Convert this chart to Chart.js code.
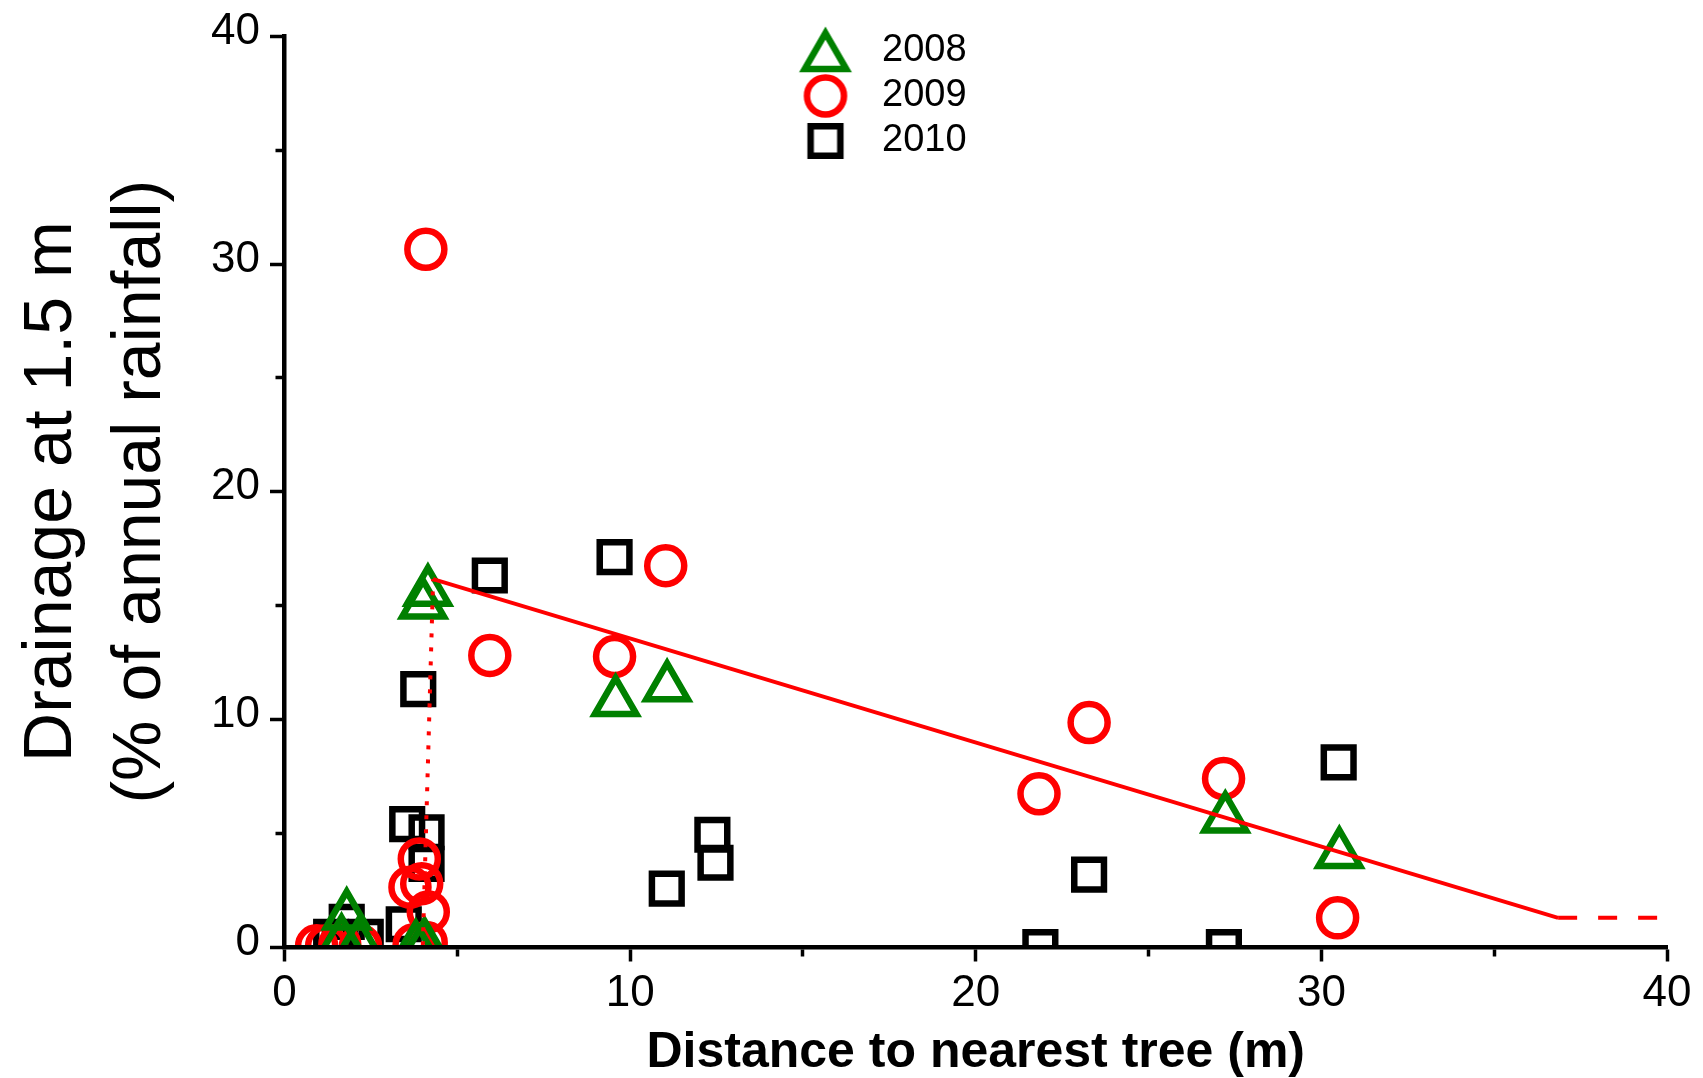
<!DOCTYPE html>
<html>
<head>
<meta charset="utf-8">
<title>Drainage at 1.5 m vs distance to nearest tree</title>
<script src="https://cdn.jsdelivr.net/npm/chart.js@4"></script>
<style>
  html, body { margin: 0; padding: 0; background: #fff; }
  #chart { display: block; }
</style>
</head>
<body>
<canvas id="chart" width="1703" height="1078"></canvas>
<script>
const FONT = "'Liberation Sans', Arial, Helvetica, sans-serif";
const GREEN = '#008000';
const RED = '#ff0000';
const BLACK = '#000000';

// 2008 (triangles)
const x2008 = [1.80, 1.65, 2.15, 3.80, 4.05, 4.01, 4.15, 9.58, 11.07, 27.22, 30.52];
const y2008 = [1.38, 0.25, 0.15, 0.00, 0.10, 15.04, 15.60, 10.76, 11.41, 5.65, 4.08];

// 2009 (circles)
const x2009 = [0.93, 1.22, 1.60, 2.20, 3.75, 4.10, 4.16, 3.63, 3.97, 3.90, 4.09, 5.94, 9.55, 11.03, 21.83, 23.28, 27.17, 30.47];
const y2009 = [0.05, 0.05, 0.10, 0.05, 0.10, 0.20, 1.54, 2.63, 2.78, 3.87, 30.65, 12.81, 12.76, 16.75, 6.73, 9.86, 7.40, 1.28];

// 2010 (squares)
const x2010 = [1.35, 1.80, 2.35, 1.60, 3.45, 4.11, 3.55, 4.11, 3.87, 5.94, 9.55, 11.06, 12.38, 12.47, 21.87, 23.28, 27.18, 30.50];
const y2010 = [0.45, 1.10, 0.45, 0.20, 1.00, 3.65, 5.40, 5.04, 11.33, 16.32, 17.13, 2.56, 4.93, 3.70, 0.00, 3.18, 0.00, 8.11];

// fitted model: zero, jump, linear decline, then flat
const stepX = [0, 4.0, 4.3];
const stepY = [0, 0, 16.16];
const fitX = [4.3, 36.85];
const fitY = [16.16, 1.28];
const flatX = [36.85, 39.85];
const flatY = [1.28, 1.28];

const tickLabels = [0, 10, 20, 30, 40];
const xTitle = 'Distance to nearest tree (m)';
const yTitle = ['Drainage at 1.5 m', '(% of annual rainfall)'];

const MARK_W = 6.5;

const zip = (xs, ys) => xs.map((x, i) => ({x: x, y: ys[i]}));

// legend marker images, drawn with Chart.js' own point helper
function markerImage(style, radius, color) {
  const c = document.createElement('canvas');
  c.width = 72; c.height = 64;
  const ctx = c.getContext('2d');
  ctx.strokeStyle = color;
  ctx.fillStyle = 'rgba(0,0,0,0)';
  ctx.lineWidth = MARK_W;
  const cy = style === 'triangle' ? c.height / 2 + radius / 4 : c.height / 2;
  Chart.helpers.drawPoint(ctx, {pointStyle: style, radius: radius, borderWidth: MARK_W, rotation: 0}, c.width / 2, cy);
  return c;
}

const scatterSet = (label, xs, ys, style, radius, color) => ({
  label: label,
  data: zip(xs, ys),
  pointStyle: style,
  pointRadius: radius,
  pointBorderWidth: MARK_W,
  pointBorderColor: color,
  pointBackgroundColor: 'rgba(0,0,0,0)',
  borderColor: color,
  clip: 0,
  marker: markerImage(style, radius, color)
});

const lineSet = (xs, ys, width, dash) => ({
  label: '',
  data: zip(xs, ys),
  showLine: true,
  borderColor: RED,
  borderWidth: width,
  borderDash: dash,
  pointRadius: 0,
  clip: 0
});

// legend sits inside the plot, near the top middle
const legendSpot = {
  id: 'legendSpot',
  afterLayout(chart) {
    const lg = chart.legend;
    if (!lg) return;
    lg.left = 781; lg.top = 25;
    lg.width = 260; lg.height = 160;
    lg.right = lg.left + lg.width; lg.bottom = lg.top + lg.height;
  }
};

const minor = ctx => ctx.tick && ctx.tick.value % 10 !== 0;

new Chart(document.getElementById('chart'), {
  type: 'scatter',
  data: {
    datasets: [
      lineSet(stepX, stepY, 4, [4, 10]),
      lineSet(fitX, fitY, 3.8, []),
      lineSet(flatX, flatY, 4, [19, 21]),
      scatterSet('2008', x2008, y2008, 'triangle', 24, GREEN),
      scatterSet('2009', x2009, y2009, 'circle', 18.5, RED),
      scatterSet('2010', x2010, y2010, 'rect', 21, BLACK)
    ]
  },
  options: {
    responsive: false,
    animation: false,
    devicePixelRatio: 1,
    events: [],
    layout: { padding: { top: 31.5, right: 36, left: 0, bottom: 0 } },
    plugins: {
      tooltip: { enabled: false },
      legend: {
        position: 'chartArea',
        align: 'start',
        labels: {
          usePointStyle: true,
          pointStyleWidth: 75,
          padding: 7,
          color: BLACK,
          font: { family: FONT, size: 38 },
          generateLabels: chart => chart.data.datasets
            .map((ds, i) => ({ds: ds, i: i}))
            .filter(o => o.ds.marker)
            .map(o => ({
              text: o.ds.label,
              pointStyle: o.ds.marker,
              fillStyle: 'rgba(0,0,0,0)',
              strokeStyle: o.ds.borderColor,
              lineWidth: 0,
              hidden: false,
              datasetIndex: o.i,
              fontColor: BLACK
            }))
        }
      }
    },
    scales: {
      x: {
        type: 'linear',
        position: 'bottom',
        min: 0,
        max: 40,
        afterFit: s => { s.height = 131; },
        border: { display: true, color: BLACK, width: 4.5, z: 1 },
        grid: {
          drawOnChartArea: false,
          drawTicks: true,
          tickLength: 14.5,
          tickWidth: 3.5,
          tickColor: BLACK,
          tickBorderDash: ctx => minor(ctx) ? [7, 100] : []
        },
        ticks: {
          stepSize: 5,
          autoSkip: false,
          maxRotation: 0,
          padding: 5.5,
          color: BLACK,
          font: { family: FONT, size: 44 },
          callback: v => tickLabels.includes(v) ? String(v) : ''
        },
        title: {
          display: true,
          text: xTitle,
          color: BLACK,
          font: { family: FONT, size: 50, weight: 'bold', lineHeight: 1.0 },
          padding: { top: 0, bottom: 0 }
        }
      },
      y: {
        type: 'linear',
        position: 'left',
        min: 0,
        max: 40,
        afterFit: s => { s.width = 284.5; },
        border: { display: true, color: BLACK, width: 4.5, z: 1 },
        grid: {
          drawOnChartArea: false,
          drawTicks: true,
          tickLength: 14.5,
          tickWidth: 3.5,
          tickColor: BLACK,
          tickBorderDash: ctx => minor(ctx) ? [0, 5.5, 7, 100] : []
        },
        ticks: {
          stepSize: 5,
          autoSkip: false,
          padding: 10,
          labelOffset: -4.5,
          color: BLACK,
          font: { family: FONT, size: 44 },
          callback: v => tickLabels.includes(v) ? String(v) : ''
        },
        title: {
          display: true,
          text: yTitle,
          color: BLACK,
          font: { family: FONT, size: 68, lineHeight: 1.31 },
          padding: { top: 7.5, bottom: 0 }
        }
      }
    }
  },
  plugins: [legendSpot]
});
</script>
</body>
</html>
